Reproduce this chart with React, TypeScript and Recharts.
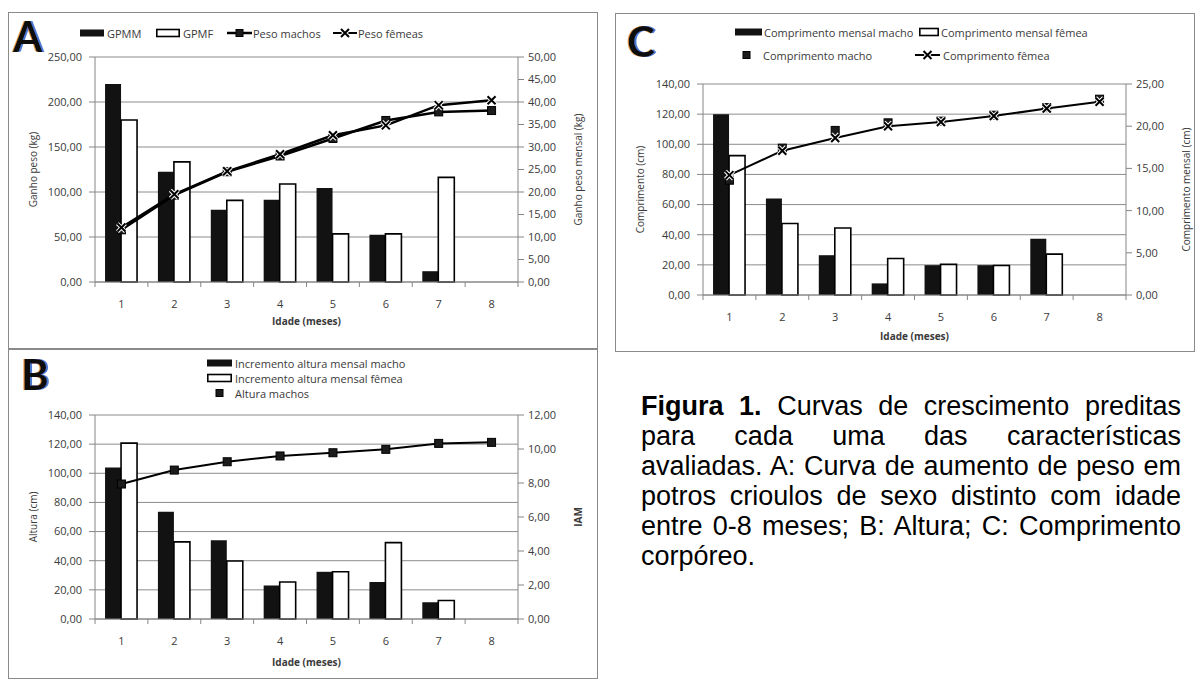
import React from "react";
import { Bar, CartesianGrid, ComposedChart, Line, XAxis, YAxis } from "recharts";

// idade (meses)
const idade = ["1", "2", "3", "4", "5", "6", "7", "8"];

// A: ganho de peso
const gpmm = [220, 122.6, 80.4, 91.5, 104.4, 52.5, 12, null];
const gpmf = [180, 133.5, 90.7, 108.9, 53.5, 53.5, 116.3, null];
const pesoMachos = [11.6, 19.3, 24.5, 28.0, 31.9, 35.9, 37.8, 38.1];
const pesoFemeas = [12.1, 19.5, 24.6, 28.4, 32.6, 34.8, 39.3, 40.4];
const ticksGanho = [0, 50, 100, 150, 200, 250];
const ticksGanhoMensal = [0, 5, 10, 15, 20, 25, 30, 35, 40, 45, 50];

// B: altura
const altMensalMacho = [104, 73.6, 54, 23, 32.4, 25.4, 11.5, null];
const altMensalFemea = [120.7, 52.9, 39.8, 25.4, 32.4, 52.4, 12.7, null];
const alturaMachos = [7.94, 8.76, 9.25, 9.59, 9.78, 9.98, 10.33, 10.39];
const ticksAltura = [0, 20, 40, 60, 80, 100, 120, 140];
const ticksIam = [0, 2, 4, 6, 8, 10, 12];

// C: comprimento
const compMensalMacho = [120, 64, 26.4, 7.7, 19.8, 19.8, 37.4, null];
const compMensalFemea = [92.5, 47.4, 44.5, 24.2, 20.3, 19.6, 27.1, null];
const compMacho = [13.6, 17.4, 19.5, 20.4, 20.6, 21.3, 22.2, 23.2];
const compFemea = [14.2, 17.1, 18.6, 20.0, 20.5, 21.2, 22.1, 22.9];
const ticksComp = [0, 20, 40, 60, 80, 100, 120, 140];
const ticksCompMensal = [0, 5, 10, 15, 20, 25];

const legenda = [
  "para cada uma das características",
  "avaliadas. A: Curva de aumento de peso em",
  "potros crioulos de sexo distinto com idade",
  "entre 0-8 meses; B: Altura; C: Comprimento",
  "corpóreo.",
];

const AXIS = "#868686";
const GRID = "#8c8c8c";
const INK = "#3a3a3a";
const FONT = "'Open Sans', 'DejaVu Sans', sans-serif";

const fmt = (v: number) => v.toFixed(2).replace(".", ",");

interface Row {
  idade: string;
  barM: number | null;
  barF: number | null;
  lineM: number;
  lineF?: number;
}

function rows(
  barM: (number | null)[],
  barF: (number | null)[],
  lineM: number[],
  lineF?: number[],
): Row[] {
  return idade.map((d, i) => ({
    idade: d,
    barM: barM[i],
    barF: barF[i],
    lineM: lineM[i],
    lineF: lineF ? lineF[i] : undefined,
  }));
}

function SquareDot(props: any) {
  const { cx, cy, size = 8 } = props;
  if (cx == null || cy == null) return null;
  return (
    <rect
      x={cx - size / 2}
      y={cy - size / 2}
      width={size}
      height={size}
      fill="#1c1c1c"
      stroke="#000"
      strokeWidth={1}
    />
  );
}

function CrossDot(props: any) {
  const { cx, cy } = props;
  if (cx == null || cy == null) return null;
  const s = 4;
  const d = `M${cx - s},${cy - s}L${cx + s},${cy + s}M${cx - s},${cy + s}L${cx + s},${cy - s}`;
  return (
    <g>
      <path d={d} stroke="#fff" strokeWidth={4} />
      <path d={d} stroke="#000" strokeWidth={2} />
    </g>
  );
}

function CatTick(props: any) {
  const { x, y, payload, index, step, count } = props;
  const half = step / 2;
  return (
    <g>
      <line x1={x - half} y1={y} x2={x - half} y2={y + 5} stroke={AXIS} />
      {index === count - 1 ? (
        <line x1={x + half} y1={y} x2={x + half} y2={y + 5} stroke={AXIS} />
      ) : null}
      <text
        x={x}
        y={y + 21}
        textAnchor="middle"
        dominantBaseline="central"
        fontSize={11}
        fill={INK}
        fontFamily={FONT}
      >
        {payload.value}
      </text>
    </g>
  );
}

interface PanelProps {
  x: number;
  y: number;
  w: number;
  h: number;
  data: Row[];
  leftW: number;
  rightW: number;
  top: number;
  axisH: number;
  leftTicks: number[];
  rightTicks: number[];
  leftTitle: string;
  rightTitle: string;
  leftOff: number;
  rightOff: number;
  xOff: number;
  machoPoints?: boolean;
  lineW: number;
  rightBold?: boolean;
}

function Panel(p: PanelProps) {
  const step = (p.w - p.leftW - p.rightW) / idade.length;
  const tickStyle = { fontSize: 11, fill: INK, fontFamily: FONT };
  return (
    <>
      <div
        style={{
          position: "absolute",
          left: p.x,
          top: p.y,
          width: p.w,
          height: p.h,
          boxSizing: "border-box",
          border: "1px solid #8a8a8a",
        }}
      />
      <div style={{ position: "absolute", left: p.x, top: p.y }}>
        <ComposedChart
          width={p.w}
          height={p.h}
          data={p.data}
          margin={{ top: p.top, right: 0, bottom: 0, left: 0 }}
          barGap={0}
          barCategoryGap="19%"
        >
          <CartesianGrid yAxisId="l" vertical={false} stroke={GRID} />
          <XAxis
            dataKey="idade"
            height={p.axisH}
            interval={0}
            axisLine={{ stroke: AXIS }}
            tickLine={false}
            tickSize={0}
            tickMargin={0}
            tick={<CatTick step={step} count={idade.length} />}
            label={{
              value: "Idade (meses)",
              position: "insideTop",
              offset: p.xOff,
              style: { fontSize: 10, fontWeight: 700, fill: INK, fontFamily: FONT },
            }}
          />
          <YAxis
            yAxisId="l"
            width={p.leftW}
            domain={[0, p.leftTicks[p.leftTicks.length - 1]]}
            ticks={p.leftTicks}
            interval={0}
            tickFormatter={fmt}
            axisLine={{ stroke: AXIS }}
            tickLine={{ stroke: AXIS }}
            tickSize={6}
            tickMargin={7}
            tick={tickStyle}
            label={{
              value: p.leftTitle,
              angle: -90,
              position: "insideLeft",
              offset: p.leftOff,
              style: { textAnchor: "middle", fontSize: 10, fill: INK, fontFamily: FONT },
            }}
          />
          <YAxis
            yAxisId="r"
            orientation="right"
            width={p.rightW}
            domain={[0, p.rightTicks[p.rightTicks.length - 1]]}
            ticks={p.rightTicks}
            interval={0}
            tickFormatter={fmt}
            axisLine={{ stroke: AXIS }}
            tickLine={{ stroke: AXIS }}
            tickSize={6}
            tickMargin={4}
            tick={tickStyle}
            label={{
              value: p.rightTitle,
              angle: -90,
              position: "insideRight",
              offset: p.rightOff,
              style: {
                textAnchor: "middle",
                fontSize: 10,
                fontWeight: p.rightBold ? 700 : 400,
                fill: INK,
                fontFamily: FONT,
              },
            }}
          />
          <Bar yAxisId="l" dataKey="barM" fill="#121212" isAnimationActive={false} />
          <Bar
            yAxisId="l"
            dataKey="barF"
            fill="#fff"
            stroke="#000"
            strokeWidth={1.6}
            isAnimationActive={false}
          />
          <Line
            yAxisId="r"
            dataKey="lineM"
            type="linear"
            stroke={p.machoPoints ? "none" : "#000"}
            strokeWidth={p.lineW}
            dot={<SquareDot />}
            activeDot={false}
            isAnimationActive={false}
          />
          {p.data[0].lineF !== undefined ? (
            <Line
              yAxisId="r"
              dataKey="lineF"
              type="linear"
              stroke="#000"
              strokeWidth={p.lineW}
              dot={<CrossDot />}
              activeDot={false}
              isAnimationActive={false}
            />
          ) : null}
        </ComposedChart>
      </div>
    </>
  );
}

type Icon = "black" | "white" | "lineSquare" | "lineCross" | "square";

function LegendEntry({
  x,
  y,
  w,
  tx,
  icon,
  label,
}: {
  x: number;
  y: number;
  w: number;
  tx: number;
  icon: Icon;
  label: string;
}) {
  const cx = x + w / 2;
  let glyph: React.ReactNode = null;
  if (icon === "black") {
    glyph = <rect x={x} y={y - 3.5} width={w} height={7} fill="#121212" />;
  } else if (icon === "white") {
    glyph = (
      <rect x={x + 0.8} y={y - 3.5} width={w - 1.6} height={7} fill="#fff" stroke="#000" strokeWidth={1.6} />
    );
  } else if (icon === "lineSquare") {
    glyph = (
      <g>
        <line x1={x} y1={y} x2={x + w} y2={y} stroke="#000" strokeWidth={2.5} />
        <SquareDot cx={cx} cy={y} size={7} />
      </g>
    );
  } else if (icon === "lineCross") {
    glyph = (
      <g>
        <line x1={x} y1={y} x2={x + w} y2={y} stroke="#000" strokeWidth={2} />
        <CrossDot cx={cx} cy={y} />
      </g>
    );
  } else {
    glyph = <SquareDot cx={cx} cy={y} size={7} />;
  }
  return (
    <g>
      {glyph}
      <text x={tx} y={y} dominantBaseline="central" fontSize={11} fill={INK} fontFamily={FONT}>
        {label}
      </text>
    </g>
  );
}

// letra do painel, com a franja colorida da imagem original feita por filtro
function Letter({ x, y, ch }: { x: number; y: number; ch: string }) {
  return (
    <text
      x={x}
      y={y}
      fontSize={42}
      fontWeight={700}
      fontFamily="Lato, 'Open Sans', sans-serif"
      fill="#111"
      filter="url(#fringe)"
    >
      {ch}
    </text>
  );
}

export default function App() {
  return (
    <div
      style={{
        position: "absolute",
        left: 0,
        top: 0,
        width: 1195,
        height: 681,
        background: "#fff",
        overflow: "hidden",
        fontFamily: FONT,
      }}
    >
      <Panel
        x={8}
        y={12}
        w={590}
        h={337}
        data={rows(gpmm, gpmf, pesoMachos, pesoFemeas)}
        leftW={87}
        rightW={80}
        top={45}
        axisH={67}
        leftTicks={ticksGanho}
        rightTicks={ticksGanhoMensal}
        leftTitle="Ganho peso (kg)"
        rightTitle="Ganho peso mensal (kg)"
        leftOff={25}
        rightOff={20}
        xOff={36}
        lineW={2.5}
      />
      <Panel
        x={8}
        y={349}
        w={590}
        h={330}
        data={rows(altMensalMacho, altMensalFemea, alturaMachos)}
        leftW={87}
        rightW={80}
        top={66}
        axisH={60}
        leftTicks={ticksAltura}
        rightTicks={ticksIam}
        leftTitle="Altura (cm)"
        rightTitle="IAM"
        leftOff={25}
        rightOff={20}
        xOff={40}
        lineW={2}
        rightBold
      />
      <Panel
        x={615}
        y={13}
        w={580}
        h={339}
        data={rows(compMensalMacho, compMensalFemea, compMacho, compFemea)}
        leftW={88}
        rightW={69}
        top={71}
        axisH={57}
        leftTicks={ticksComp}
        rightTicks={ticksCompMensal}
        leftTitle="Comprimento (cm)"
        rightTitle="Comprimento mensal (cm)"
        leftOff={25}
        rightOff={9}
        xOff={38}
        lineW={2}
        machoPoints
      />

      <svg
        width={1195}
        height={681}
        style={{ position: "absolute", left: 0, top: 0, pointerEvents: "none" }}
      >
        <defs>
          <filter id="fringe" x="-20%" y="-20%" width="140%" height="140%">
            <feFlood floodColor="#e08a2a" floodOpacity={0.85} result="orange" />
            <feComposite in="orange" in2="SourceAlpha" operator="in" result="orangeShape" />
            <feOffset in="orangeShape" dx={-1.5} dy={0} result="left" />
            <feFlood floodColor="#2f62c8" floodOpacity={0.85} result="blue" />
            <feComposite in="blue" in2="SourceAlpha" operator="in" result="blueShape" />
            <feOffset in="blueShape" dx={1.5} dy={0} result="right" />
            <feMerge>
              <feMergeNode in="left" />
              <feMergeNode in="right" />
              <feMergeNode in="SourceGraphic" />
            </feMerge>
          </filter>
        </defs>
        <Letter x={13} y={52} ch="A" />
        <Letter x={21} y={390} ch="B" />
        <Letter x={627} y={57} ch="C" />

        <LegendEntry x={80} y={33} w={24} tx={107} icon="black" label="GPMM" />
        <LegendEntry x={156} y={33} w={24} tx={183} icon="white" label="GPMF" />
        <LegendEntry x={227} y={33} w={25} tx={253} icon="lineSquare" label="Peso machos" />
        <LegendEntry x={333} y={33} w={24} tx={358} icon="lineCross" label="Peso fêmeas" />

        <LegendEntry x={207} y={363} w={25} tx={235} icon="black" label="Incremento altura mensal macho" />
        <LegendEntry x={207} y={378} w={25} tx={235} icon="white" label="Incremento altura mensal fêmea" />
        <LegendEntry x={207} y={393} w={25} tx={235} icon="square" label="Altura machos" />

        <LegendEntry x={735} y={32} w={27} tx={764} icon="black" label="Comprimento mensal macho" />
        <LegendEntry x={919} y={32} w={20} tx={941} icon="white" label="Comprimento mensal fêmea" />
        <LegendEntry x={733} y={55} w={27} tx={763} icon="square" label="Comprimento macho" />
        <LegendEntry x={915} y={55} w={25} tx={943} icon="lineCross" label="Comprimento fêmea" />
      </svg>

      <div
        style={{
          position: "absolute",
          left: 641,
          top: 391,
          width: 540,
          fontFamily: "'Liberation Sans', Arial, sans-serif",
          fontSize: 27,
          lineHeight: "30px",
          color: "#000",
        }}
      >
        <div style={{ textAlign: "justify", textAlignLast: "justify", whiteSpace: "nowrap" }}>
          <b>Figura 1.</b> Curvas de crescimento preditas
        </div>
        {legenda.map((t, i) => (
          <div
            key={i}
            style={{
              textAlign: "justify",
              textAlignLast: i === legenda.length - 1 ? "left" : "justify",
              whiteSpace: "nowrap",
            }}
          >
            {t}
          </div>
        ))}
      </div>
    </div>
  );
}
